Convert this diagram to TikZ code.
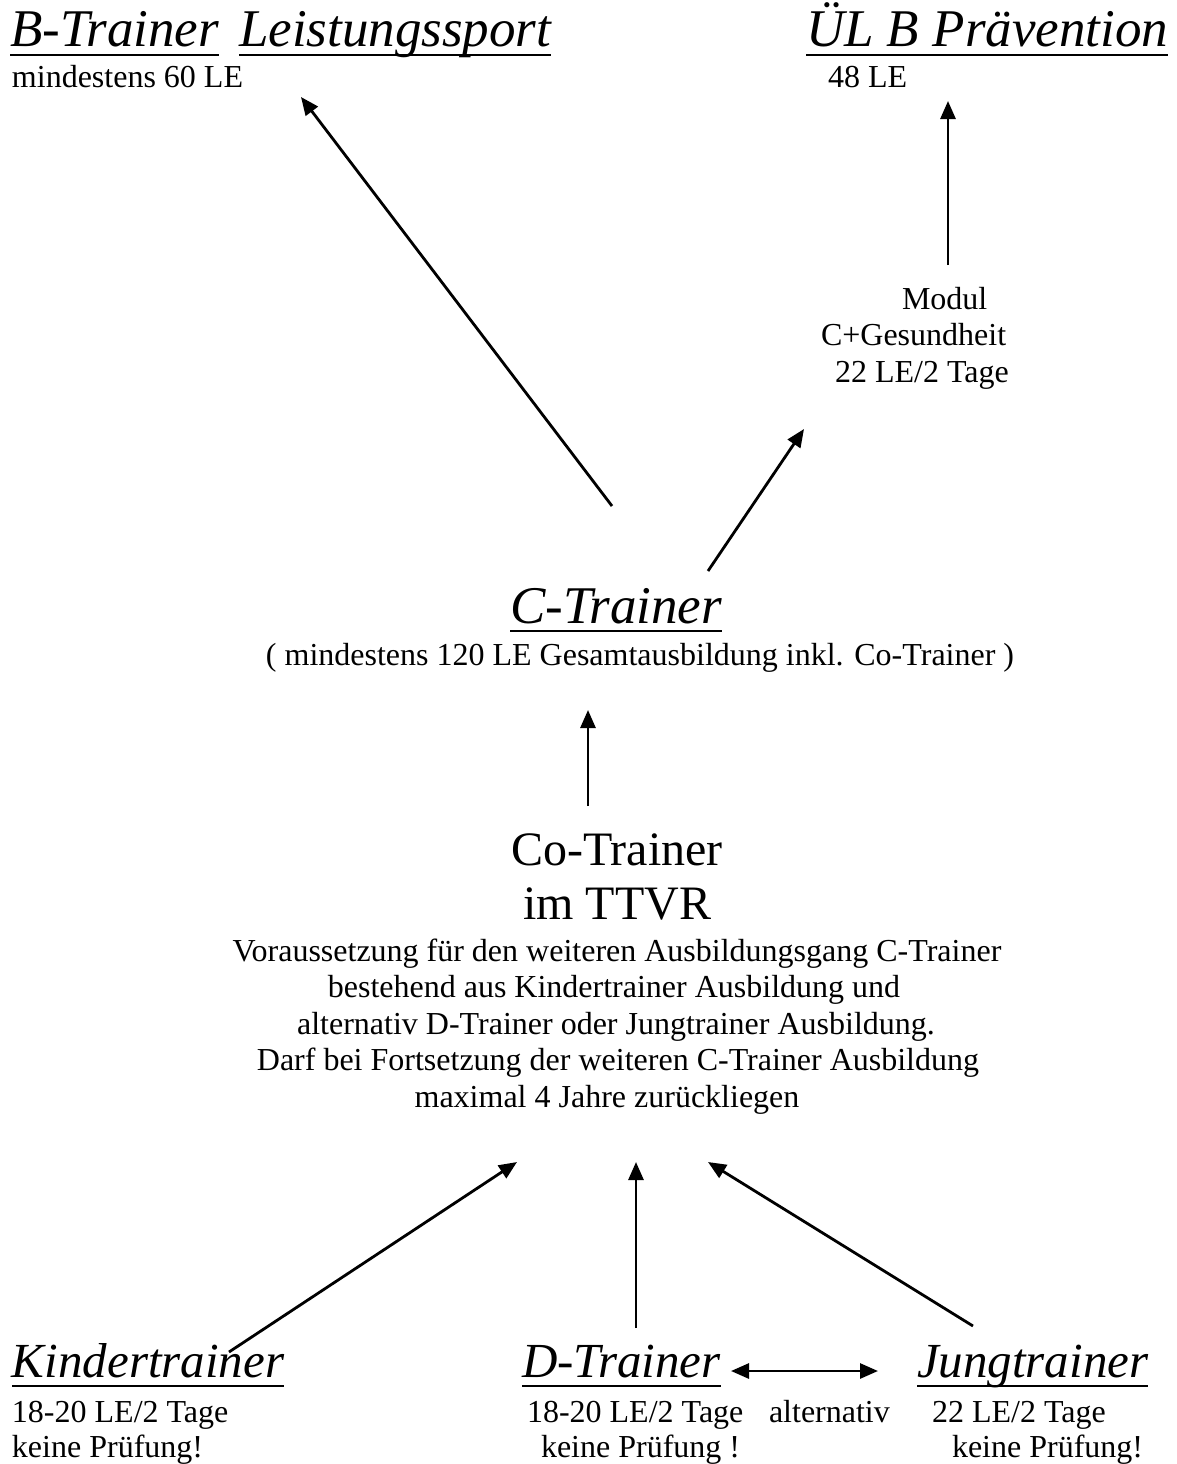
\documentclass[tikz,border=0pt]{standalone}
\usepackage{fontspec}
\setmainfont{Liberation Serif}
\usetikzlibrary{arrows.meta}
\begin{document}
\begin{tikzpicture}[x=1pt,y=-1pt,
  every node/.style={inner sep=0pt,outer sep=0pt},
  big/.style={font=\fontsize{53}{60}\selectfont\itshape},
  mid/.style={font=\fontsize{49}{56}\selectfont\itshape},
  co/.style={font=\fontsize{48}{54}\selectfont},
  small/.style={font=\fontsize{32}{36.5}\selectfont},
  ul/.style={line width=1.8pt},
  tip/.tip={Triangle[length=18pt,width=15pt]},
  arr/.style={line width=2.8pt,-tip},
  darr/.style={line width=2.8pt,tip-tip}]
\useasboundingbox (0,0) rectangle (1177,1464);
% top left
\node[big,anchor=base west] (bt1) at (10,47) {B-Trainer};
\node[big,anchor=base west] (bt2) at (239,47) {Leistungssport};
\draw[ul] ([yshift=-8pt]bt1.base west) -- ([yshift=-8pt]bt1.base east);
\draw[ul] ([yshift=-8pt]bt2.base west) -- ([yshift=-8pt]bt2.base east);
\node[small,anchor=base west] (bts) at (12,88) {mindestens 60 LE};
% top right
\node[big,anchor=base west] (ul) at (806,47) {ÜL B Prävention};
\draw[ul] ([yshift=-8pt]ul.base west) -- ([yshift=-8pt]ul.base east);
\node[small,anchor=base west] (uls) at (828,88) {48 LE};
% modul
\node[small,anchor=base west] (mod1) at (902,309) {Modul};
\node[small,anchor=base west] (mod2) at (821,345) {C+Gesundheit};
\node[small,anchor=base west] (mod3) at (835,382) {22 LE/2 Tage};
% C-Trainer
\node[big,anchor=base west] (ct) at (510,623) {C-Trainer};
\draw[ul] ([yshift=-8pt]ct.base west) -- ([yshift=-8pt]ct.base east);
\node[small,anchor=base] (cts) at (640,665) {( mindestens 120 LE Gesamtausbildung inkl. Co-Trainer )};
% Co-Trainer
\node[co,anchor=base] (co1) at (617,865) {Co-Trainer};
\node[co,anchor=base] (co2) at (617,919) {im TTVR};
\node[small,anchor=base] (p1) at (617,961) {Voraussetzung für den weiteren Ausbildungsgang C-Trainer};
\node[small,anchor=base] (p2) at (614,997) {bestehend aus Kindertrainer Ausbildung und};
\node[small,anchor=base] (p3) at (616,1034) {alternativ D-Trainer oder Jungtrainer Ausbildung.};
\node[small,anchor=base] (p4) at (618,1070) {Darf bei Fortsetzung der weiteren C-Trainer Ausbildung};
\node[small,anchor=base] (p5) at (607,1107) {maximal 4 Jahre zurückliegen};
% bottom
\node[mid,anchor=base west] (kt) at (12,1377) {Kindertrainer};
\draw[ul] ([yshift=-9pt]kt.base west) -- ([yshift=-9pt]kt.base east);
\node[small,anchor=base west] (kt1) at (12,1422) {18-20 LE/2 Tage};
\node[small,anchor=base west] (kt2) at (12,1457) {keine Prüfung!};
\node[mid,anchor=base west] (dt) at (522,1377) {D-Trainer};
\draw[ul] ([yshift=-9pt]dt.base west) -- ([yshift=-9pt]dt.base east);
\node[small,anchor=base west] (dt1) at (527,1422) {18-20 LE/2 Tage};
\node[small,anchor=base west] (alt) at (769,1422) {alternativ};
\node[small,anchor=base west] (dt2) at (541,1457) {keine Prüfung !};
\node[mid,anchor=base west] (jt) at (917,1377) {Jungtrainer};
\draw[ul] ([yshift=-9pt]jt.base west) -- ([yshift=-9pt]jt.base east);
\node[small,anchor=base west] (jt1) at (932,1422) {22 LE/2 Tage};
\node[small,anchor=base west] (jt2) at (952,1457) {keine Prüfung!};
% arrow end points
\coordinate (a1s) at (612,506); \coordinate (a1e) at (301,97);
\coordinate (a2s) at (948,265); \coordinate (a2e) at (948,101);
\coordinate (a3s) at (708,571); \coordinate (a3e) at (804,429);
\coordinate (a4s) at (588,806); \coordinate (a4e) at (588,710);
\coordinate (a5s) at (229,1352); \coordinate (a5e) at (517,1162);
\coordinate (a6s) at (636,1328); \coordinate (a6e) at (636,1162);
\coordinate (a7s) at (973,1326); \coordinate (a7e) at (708,1162);
\coordinate (dA) at (731,1371); \coordinate (dB) at (878,1371);
\draw[arr] (a1s) -- (a1e);
\draw[arr] (a2s) -- (a2e);
\draw[arr] (a3s) -- (a3e);
\draw[arr] (a4s) -- (a4e);
\draw[arr] (a5s) -- (a5e);
\draw[arr] (a6s) -- (a6e);
\draw[arr] (a7s) -- (a7e);
\draw[darr] (dA) -- (dB);
\end{tikzpicture}
\end{document}
